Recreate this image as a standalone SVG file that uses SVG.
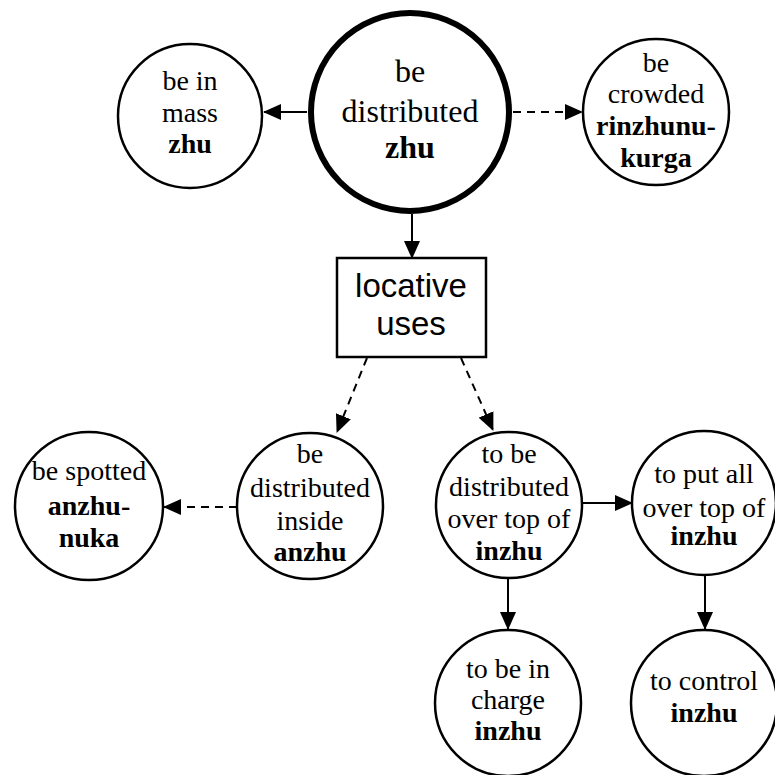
<svg xmlns="http://www.w3.org/2000/svg" width="775" height="775" viewBox="0 0 775 775">
  <style>
    .node { fill: #fff; stroke: #000; stroke-width: 2.5; }
    .main { fill: #fff; stroke: #000; stroke-width: 6; }
    .box { fill: #fff; stroke: #000; stroke-width: 2.5; }
    .t { font-family: "Liberation Serif", "Times New Roman", serif; font-size: 28px; text-anchor: middle; fill: #000; }
    .tm { font-family: "Liberation Serif", "Times New Roman", serif; font-size: 32px; text-anchor: middle; fill: #000; }
    .ts { font-family: "Liberation Sans", Arial, sans-serif; font-size: 33px; text-anchor: middle; fill: #000; }
    .b { font-weight: bold; }
    .edge { fill: none; stroke: #000; stroke-width: 2; marker-end: url(#arrow); }
    .dash { stroke-dasharray: 8 6; }
  </style>
  <defs>
    <marker id="arrow" markerUnits="userSpaceOnUse" markerWidth="18" markerHeight="16" refX="17" refY="8" orient="auto">
      <path d="M0,0 L18,8 L0,16 Z" fill="#000"/>
    </marker>
  </defs>

  <g id="connectors">
    <line class="edge" x1="307" y1="112" x2="264" y2="112"/>
    <line class="edge dash" x1="513" y1="112" x2="582" y2="112"/>
    <line class="edge" x1="412" y1="214" x2="412" y2="258"/>
    <line class="edge dash" x1="367" y1="358" x2="337" y2="432"/>
    <line class="edge dash" x1="461" y1="358" x2="493" y2="430"/>
    <line class="edge dash" x1="237" y1="507" x2="164" y2="507"/>
    <line class="edge" x1="583" y1="503" x2="632" y2="503"/>
    <line class="edge" x1="508" y1="578" x2="508" y2="629"/>
    <line class="edge" x1="705" y1="576" x2="705" y2="629"/>
  </g>

  <g id="be-distributed">
    <circle class="main" cx="410" cy="112" r="99"/>
    <text class="tm" x="410" y="82">be</text>
    <text class="tm" x="410" y="122">distributed</text>
    <text class="tm b" x="410" y="158">zhu</text>
  </g>

  <g id="be-in-mass">
    <circle class="node" cx="190" cy="116" r="72"/>
    <text class="t" x="190" y="90">be in</text>
    <text class="t" x="190" y="122">mass</text>
    <text class="t b" x="190" y="153">zhu</text>
  </g>

  <g id="be-crowded">
    <circle class="node" cx="656" cy="112" r="73"/>
    <text class="t" x="656" y="72">be</text>
    <text class="t" x="656" y="103">crowded</text>
    <text class="t b" x="656" y="135">rinzhunu-</text>
    <text class="t b" x="656" y="167">kurga</text>
  </g>

  <g id="locative-uses">
    <rect class="box" x="337" y="258" width="149" height="99"/>
    <text class="ts" x="411" y="297">locative</text>
    <text class="ts" x="411" y="335">uses</text>
  </g>

  <g id="be-distributed-inside">
    <circle class="node" cx="310" cy="506" r="73"/>
    <text class="t" x="310" y="463">be</text>
    <text class="t" x="310" y="497">distributed</text>
    <text class="t" x="310" y="530">inside</text>
    <text class="t b" x="310" y="561">anzhu</text>
  </g>

  <g id="be-spotted">
    <circle class="node" cx="89" cy="506" r="74"/>
    <text class="t" x="89" y="480">be spotted</text>
    <text class="t b" x="89" y="515">anzhu-</text>
    <text class="t b" x="89" y="547">nuka</text>
  </g>

  <g id="distributed-over-top">
    <circle class="node" cx="509" cy="505" r="73"/>
    <text class="t" x="509" y="463">to be</text>
    <text class="t" x="509" y="496">distributed</text>
    <text class="t" x="509" y="528">over top of</text>
    <text class="t b" x="509" y="560">inzhu</text>
  </g>

  <g id="put-all-over-top">
    <circle class="node" cx="704" cy="503" r="72"/>
    <text class="t" x="704" y="483">to put all</text>
    <text class="t" x="704" y="517">over top of</text>
    <text class="t b" x="704" y="545">inzhu</text>
  </g>

  <g id="be-in-charge">
    <circle class="node" cx="508" cy="703" r="73"/>
    <text class="t" x="508" y="678">to be in</text>
    <text class="t" x="508" y="709">charge</text>
    <text class="t b" x="508" y="740">inzhu</text>
  </g>

  <g id="to-control">
    <circle class="node" cx="704" cy="703" r="73"/>
    <text class="t" x="704" y="690">to control</text>
    <text class="t b" x="704" y="722">inzhu</text>
  </g>
</svg>
